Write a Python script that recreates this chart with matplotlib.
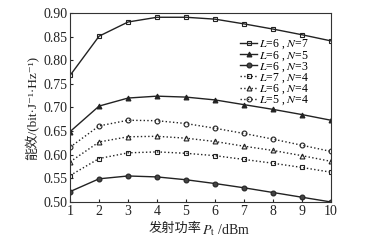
import numpy as np
import matplotlib
matplotlib.use('Agg')
import matplotlib.pyplot as plt

plt.rcParams['font.family'] = ['Liberation Serif', 'Noto Sans CJK SC', 'DejaVu Sans']
plt.rcParams['mathtext.fontset'] = 'stix'
plt.rcParams['axes.unicode_minus'] = False

# data
power = [1, 2, 3, 4, 5, 6, 7, 8, 9, 10]
ee_L6_N7 = [0.768, 0.851, 0.881, 0.891, 0.891, 0.887, 0.877, 0.866, 0.854, 0.841]
ee_L6_N5 = [0.649, 0.703, 0.720, 0.724, 0.722, 0.716, 0.706, 0.696, 0.685, 0.673]
ee_L6_N3 = [0.522, 0.549, 0.555, 0.553, 0.547, 0.539, 0.530, 0.520, 0.510, 0.500]
ee_L7_N4 = [0.556, 0.592, 0.604, 0.606, 0.603, 0.598, 0.590, 0.582, 0.573, 0.563]
ee_L6_N4 = [0.585, 0.627, 0.638, 0.639, 0.635, 0.628, 0.618, 0.609, 0.598, 0.586]
ee_L5_N4 = [0.616, 0.661, 0.673, 0.672, 0.666, 0.656, 0.645, 0.633, 0.620, 0.607]

series = [
    (ee_L6_N7, '$L$=6 , $N$=7', 's', '-', 'none'),
    (ee_L6_N5, '$L$=6 , $N$=5', '^', '-', '#222222'),
    (ee_L6_N3, '$L$=6 , $N$=3', 'o', '-', '#444444'),
    (ee_L7_N4, '$L$=7 , $N$=4', 's', ':', 'none'),
    (ee_L6_N4, '$L$=6 , $N$=4', '^', ':', 'none'),
    (ee_L5_N4, '$L$=5 , $N$=4', 'o', ':', 'none'),
]

fig = plt.figure(figsize=(3.71, 2.41), dpi=100)
ax = fig.add_axes([0.189, 0.162, 0.703, 0.784])

for y, lab, m, ls, fc in series:
    ax.plot(power, y, linestyle=ls, color='#222222', linewidth=1.0,
            marker=m, markersize=3.5, markerfacecolor=fc,
            markeredgecolor='#222222', markeredgewidth=0.8, label=lab)

ax.set_xlim(1, 10)
ax.set_ylim(0.50, 0.90)
ax.set_xticks(power)
ax.set_yticks(np.arange(0.50, 0.901, 0.05))
ax.set_yticklabels(['%.2f' % v for v in np.arange(0.50, 0.901, 0.05)])
ax.tick_params(direction='in', length=2, labelsize=10, pad=2, colors='#222222')
for sp in ax.spines.values():
    sp.set_linewidth(0.8)
    sp.set_color('#333333')

# x label: CJK part and math part as two adjacent texts
ax.text(0.505, -0.11, '发射功率', transform=ax.transAxes, ha='right', va='top',
        fontsize=9.5, color='#222222')
ax.text(0.505, -0.105, '$P_\\mathrm{t}$ /dBm', transform=ax.transAxes, ha='left',
        va='top', fontsize=10, color='#222222')

ax.set_ylabel('能效/(bit·J⁻¹·Hz⁻¹)', fontsize=9.5, labelpad=3, color='#222222')

leg = ax.legend(loc='upper right', bbox_to_anchor=(0.94, 0.90), frameon=False,
                fontsize=8.5, handlelength=1.4, handletextpad=0.2,
                labelspacing=-0.2, borderpad=0.0)

fig.savefig('out.png', dpi=100)
